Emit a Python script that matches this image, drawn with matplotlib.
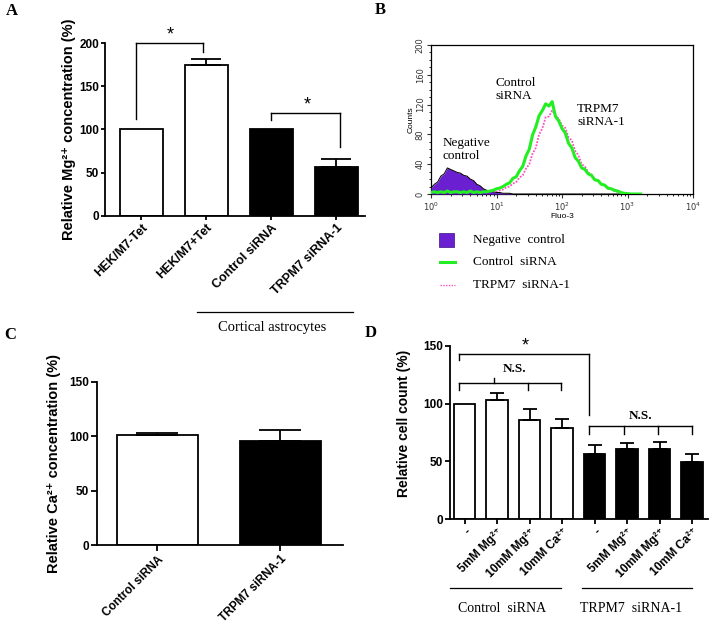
import numpy as np
import matplotlib
matplotlib.use("Agg")
import matplotlib.pyplot as plt
from matplotlib.lines import Line2D
from matplotlib.patches import Rectangle
from matplotlib.ticker import AutoMinorLocator, LogLocator, NullFormatter

W, H = 710, 628
SANS = ["Liberation Sans", "DejaVu Sans"]
SERIF = "Liberation Serif"

# ---------------- data ----------------
a_labels = ["HEK/M7-Tet", "HEK/M7+Tet", "Control siRNA", "TRPM7 siRNA-1"]
a_values = [100, 174, 100, 57]
a_errors = [0, 7, 0, 9]
a_colors = ["white", "white", "black", "black"]

c_labels = ["Control siRNA", "TRPM7 siRNA-1"]
c_values = [101.5, 96]
c_errors = [1.5, 10]
c_colors = ["white", "black"]

d_labels = ["-", "5mM Mg²⁺", "10mM Mg²⁺", "10mM Ca²⁺",
            "-", "5mM Mg²⁺", "10mM Mg²⁺", "10mM Ca²⁺"]
d_values = [100, 103, 86, 79, 56, 61, 61, 49]
d_errors = [0, 6, 9, 8, 8, 5, 6, 7]
d_colors = ["white"] * 4 + ["black"] * 4
d_groups = ["Control  siRNA", "TRPM7  siRNA-1"]

# flow cytometry histogram (log10 Fluo-3 positions, counts)
b_logx = [0.00, 0.05, 0.10, 0.15, 0.20, 0.25, 0.30, 0.35, 0.40, 0.45,
          0.50, 0.55, 0.60, 0.65, 0.70, 0.75, 0.80, 0.85, 0.90, 0.95,
          1.00, 1.05, 1.10, 1.15, 1.20, 1.25, 1.30, 1.35, 1.40, 1.45,
          1.50, 1.55, 1.60, 1.65, 1.70, 1.75, 1.80, 1.85, 1.90, 1.95,
          2.00, 2.05, 2.10, 2.15, 2.20, 2.25, 2.30, 2.35, 2.40, 2.45,
          2.50, 2.55, 2.60, 2.65, 2.70, 2.75, 2.80, 2.85, 2.90, 2.95,
          3.00, 3.05, 3.10, 3.15, 3.20]
b_negative = [8, 13, 16, 24, 27, 35, 33, 31, 29, 28,
              25, 24, 20, 18, 13, 11, 7, 5, 4, 3,
              2, 2, 1, 1, 1, 0, 0, 0, 0, 0,
              0, 0, 0, 0, 0, 0, 0, 0, 0, 0,
              0, 0, 0, 0, 0, 0, 0, 0, 0, 0,
              0, 0, 0, 0, 0, 0, 0, 0, 0, 0,
              0, 0, 0, 0, 0]
b_control = [2, 3, 2, 3, 2, 4, 2, 3, 3, 2,
             3, 2, 4, 2, 3, 2, 3, 3, 4, 5,
             7, 8, 10, 13, 15, 21, 23, 31, 37, 51,
             60, 79, 90, 105, 112, 121, 118, 124, 104, 98,
             88, 82, 68, 62, 49, 44, 35, 33, 27, 25,
             19, 18, 13, 12, 8, 7, 5, 4, 2, 1,
             0.5, 0, 0, 0, 0]
b_trpm7 = [0, 0, 0, 0, 0, 0, 0, 0, 0, 0,
           0, 0, 0, 0, 1, 1, 1, 1, 1, 2,
           3, 5, 6, 9, 10, 14, 16, 22, 25, 34,
           40, 54, 62, 80, 88, 103, 104, 112, 106, 101,
           92, 89, 76, 72, 58, 52, 40, 37, 29, 26,
           20, 18, 13, 12, 7, 7, 4, 3, 2, 1,
           0.5, 0, 0, 0, 0]


def rect(l, t, r, b):
    return [l / W, 1 - b / H, (r - l) / W, (b - t) / H]


def style_bar_axes(ax, ymax, ystep, length=3.2, pad=1.5):
    for s in ["top", "right"]:
        ax.spines[s].set_visible(False)
    for s in ["left", "bottom"]:
        ax.spines[s].set_linewidth(1.3)
    ax.set_ylim(0, ymax)
    ax.set_yticks(np.arange(0, ymax + 1, ystep))
    ax.tick_params(axis="both", direction="out", length=length, width=1.3, pad=pad)
    for lab in ax.get_yticklabels():
        lab.set_fontfamily(SANS)
        lab.set_fontweight("bold")
        lab.set_fontsize(8.5)


def bars(ax, values, errors, colors, capsize):
    x = np.arange(len(values))
    ax.bar(x, values, width=0.66, color=colors, edgecolor="black", linewidth=1.3, zorder=2)
    for xi, v, e in zip(x, values, errors):
        if e > 0:
            ax.errorbar(xi, v, yerr=[[0], [e]], fmt="none", ecolor="black",
                        elinewidth=1.3, capsize=capsize, capthick=1.3, zorder=3)
    return x


def xlabels(ax, x, labels, fs=8.5):
    ax.set_xticks(x)
    ax.set_xticklabels(labels, rotation=45, ha="right", rotation_mode="anchor",
                       fontfamily=SANS, fontweight="bold", fontsize=fs)


def bracket(ax, xs, top, downs, lw=1.0):
    ax.plot([xs[0], xs[-1]], [top, top], color="black", lw=lw, clip_on=False)
    for xx, d in zip(xs, downs):
        ax.plot([xx, xx], [top, d], color="black", lw=lw, clip_on=False)


fig = plt.figure(figsize=(W / 100, H / 100), dpi=100)

# ---------------- Panel A ----------------
axA = fig.add_axes(rect(105, 43, 365, 216))
xA = bars(axA, a_values, a_errors, a_colors, capsize=11)
axA.set_xlim(-0.56, 3.44)
style_bar_axes(axA, 200, 50, length=3.0, pad=1.2)
xlabels(axA, xA, a_labels, fs=9)
axA.set_ylabel("Relative Mg²⁺ concentration (%)", fontfamily=SANS,
               fontweight="bold", fontsize=10.5)
axA.yaxis.set_label_coords(-0.11, 0.5)
bracket(axA, [-0.08, 0.95], 200, [112, 190])
axA.text(0.45, 199, "*", ha="center", va="bottom", fontsize=13, fontfamily=SANS)
bracket(axA, [2.0, 3.05], 119, [111, 80])
axA.text(2.55, 118, "*", ha="center", va="bottom", fontsize=13, fontfamily=SANS)
fig.add_artist(Line2D([197 / W, 353 / W], [1 - 312 / H, 1 - 312 / H],
                      color="black", lw=0.9, transform=fig.transFigure))
fig.text(272 / W, 1 - 328 / H, "Cortical astrocytes", ha="center", va="center",
         fontfamily=SERIF, fontsize=10.5)

# ---------------- Panel B ----------------
axB = fig.add_axes(rect(431, 45, 693, 194))
lx = 10 ** np.array(b_logx)
axB.plot(lx, b_trpm7, color="#ff4fc0", lw=1.3, ls=(0, (1, 0.8)), zorder=2)
axB.fill_between(lx, b_negative, color="#6a1fd0", zorder=3, linewidth=0)
axB.plot(lx, b_negative, color="black", lw=0.7, zorder=4)
axB.plot(lx, b_control, color="#22ee22", lw=2.2, zorder=5)
axB.set_xscale("log")
axB.set_xlim(1, 1e4)
axB.set_ylim(0, 200)
axB.set_yticks([0, 40, 80, 120, 160, 200])
axB.yaxis.set_minor_locator(AutoMinorLocator(4))
axB.xaxis.set_major_locator(LogLocator(base=10, numticks=10))
axB.xaxis.set_minor_locator(LogLocator(base=10, subs=np.arange(2, 10), numticks=20))
axB.xaxis.set_minor_formatter(NullFormatter())
axB.tick_params(axis="both", which="major", direction="out", length=3, width=0.8,
                labelsize=6, colors="#333333", pad=1.5)
axB.tick_params(axis="both", which="minor", direction="out", length=1.5, width=0.6)
for lab in axB.get_yticklabels():
    lab.set_rotation(90)
    lab.set_va("center")
for s in axB.spines.values():
    s.set_linewidth(0.9)
axB.set_ylabel("Counts", fontsize=6, fontfamily=SANS, labelpad=1)
axB.set_xlabel("Fluo-3", fontsize=6, fontfamily=SANS, labelpad=0)
axB.text(9.5, 140, "Control\nsiRNA", fontfamily=SERIF, fontsize=9.5, ha="left",
         va="center", linespacing=1.15)
axB.text(170, 105, "TRPM7\nsiRNA-1", fontfamily=SERIF, fontsize=9.5, ha="left",
         va="center", linespacing=1.15)
axB.text(1.52, 60, "Negative\ncontrol", fontfamily=SERIF, fontsize=9.5, ha="left",
         va="center", linespacing=1.15)

# legend for B
fig.add_artist(Rectangle((439 / W, 1 - 247 / H), 15 / W, 14 / H,
                         facecolor="#6a1fd0", edgecolor="#3a1080", lw=0.5,
                         transform=fig.transFigure))
fig.add_artist(Line2D([440 / W, 455 / W], [1 - 262 / H, 1 - 262 / H],
                      color="#22ee22", lw=2.2, transform=fig.transFigure))
fig.add_artist(Line2D([440 / W, 455 / W], [1 - 285 / H, 1 - 285 / H],
                      color="#ff4fc0", lw=1.0, ls=(0, (1, 1)), transform=fig.transFigure))
leg_texts = ["Negative  control", "Control  siRNA", "TRPM7  siRNA-1"]
for t, yy in zip(leg_texts, [240, 262, 285]):
    fig.text(473 / W, 1 - yy / H, t, fontfamily=SERIF, fontsize=9.5, va="center")

# ---------------- Panel C ----------------
axC = fig.add_axes(rect(97, 382, 343, 545))
xC = bars(axC, c_values, c_errors, c_colors, capsize=15)
axC.set_xlim(-0.49, 1.51)
style_bar_axes(axC, 150, 50, length=4.5, pad=1.5)
xlabels(axC, xC, c_labels, fs=8.5)
axC.set_ylabel("Relative Ca²⁺ concentration (%)", fontfamily=SANS,
               fontweight="bold", fontsize=10.5)
axC.yaxis.set_label_coords(-0.145, 0.5)

# ---------------- Panel D ----------------
axD = fig.add_axes(rect(450, 346, 708, 519))
xD = bars(axD, d_values, d_errors, d_colors, capsize=5)
axD.set_xlim(-0.45, 7.49)
style_bar_axes(axD, 150, 50, length=3.5, pad=1.5)
xlabels(axD, xD, d_labels, fs=8.5)
axD.set_ylabel("Relative cell count (%)", fontfamily=SANS, fontweight="bold", fontsize=10)
axD.yaxis.set_label_coords(-0.15, 0.55)
bracket(axD, [-0.17, 3.83], 143, [137.6, 90])
axD.text(1.86, 143, "*", ha="center", va="bottom", fontsize=13, fontfamily=SANS)
bracket(axD, [-0.17, 0.9, 1.94, 2.97], 118, [112, 122, 112, 112])
axD.text(1.55, 130, "N.S.", ha="center", va="center", fontsize=9.5,
         fontfamily=SERIF, fontweight="bold")
bracket(axD, [3.83, 4.9, 5.94, 6.99], 80.5, [74, 74, 74, 74])
axD.text(5.42, 89, "N.S.", ha="center", va="center", fontsize=9.5,
         fontfamily=SERIF, fontweight="bold")
for (x0, x1), xc, t in zip([(450, 561), (582, 692)], [502, 631], d_groups):
    fig.add_artist(Line2D([x0 / W, x1 / W], [1 - 588 / H, 1 - 588 / H],
                          color="black", lw=0.9, transform=fig.transFigure))
    fig.text(xc / W, 1 - 608 / H, t, ha="center", va="center",
             fontfamily=SERIF, fontsize=10)

# ---------------- Panel letters ----------------
for letter, (px, py) in zip("ABCD", [(12, 11), (380, 10), (10, 335), (371, 333)]):
    fig.text(px / W, 1 - py / H, letter, fontfamily=SERIF, fontweight="bold",
             fontsize=12, ha="center", va="center")

fig.savefig("out.png", dpi=100)
